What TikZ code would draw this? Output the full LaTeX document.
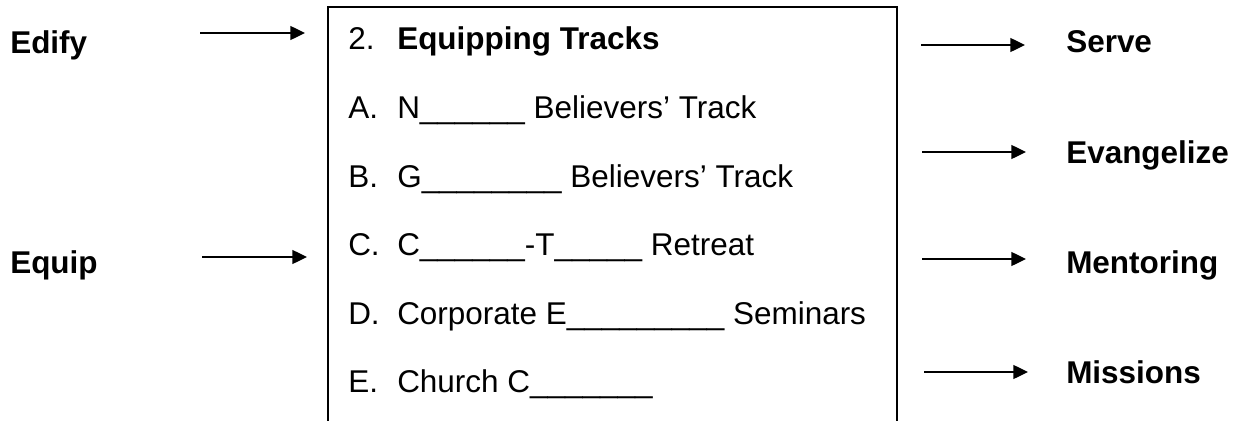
\documentclass[tikz,border=0pt]{standalone}
\usepackage{fontspec}
\setmainfont{Liberation Sans}
\usepackage{tikz}
\usetikzlibrary{positioning,arrows.meta}

\newcommand{\bigsize}{\fontsize{23.6}{28}\selectfont}

\tikzset{
  lab/.style={font=\bigsize\bfseries, anchor=base west, inner sep=0pt},
  num/.style={font=\bigsize, anchor=base west, inner sep=0pt},
  entry/.style={font=\bigsize, anchor=base west, inner sep=0pt},
  flow/.style={line width=1pt, -{Triangle[length=11pt,width=10.5pt]}},
  frame/.style={line width=1.2pt}
}

\begin{document}
\begin{tikzpicture}[x=0.75pt, y=-0.75pt]
    \useasboundingbox (0,0) rectangle (1243,421);

    % open box, runs off the bottom
    \draw[frame] (328,425) -- (328,7) -- (897,7) -- (897,425);

    \node[lab] (edify) at (10,53) {Edify};
    \node[lab] (equip) at (10,273) {Equip};

    \node[num] (n0) at (348,50) {2.};
    \node[entry, font=\bigsize\bfseries] (t0) at (397,50) {Equipping Tracks};
    \node[num] (n1) at (348,118) {A.};
    \node[entry] (t1) at (397,118) {N\_\_\_\_\_\_ Believers' Track};
    \node[num] (n2) at (348,187) {B.};
    \node[entry] (t2) at (397,187) {G\_\_\_\_\_\_\_\_ Believers' Track};
    \node[num] (n3) at (348,255) {C.};
    \node[entry] (t3) at (397,255) {C\_\_\_\_\_\_-T\_\_\_\_\_ Retreat};
    \node[num] (n4) at (348,324) {D.};
    \node[entry] (t4) at (397,324) {Corporate E\_\_\_\_\_\_\_\_\_ Seminars};
    \node[num] (n5) at (348,392) {E.};
    \node[entry] (t5) at (397,392) {Church C\_\_\_\_\_\_\_};

    \node[lab] (serve) at (1066,52) {Serve};
    \node[lab] (evang) at (1066,163) {Evangelize};
    \node[lab] (mentor) at (1066,273) {Mentoring};
    \node[lab] (missions) at (1066,383) {Missions};

    % arrow ends
    \coordinate (edifyA) at (200,33);
    \coordinate (edifyB) at (305,33);
    \coordinate (equipA) at (202,257);
    \coordinate (equipB) at (307,257);
    \coordinate (serveA) at (921,45);
    \coordinate (serveB) at (1025,45);
    \coordinate (evangA) at (922,152);
    \coordinate (evangB) at (1026,152);
    \coordinate (mentorA) at (922,259);
    \coordinate (mentorB) at (1026,259);
    \coordinate (missionsA) at (924,372);
    \coordinate (missionsB) at (1028,372);

    \draw[flow] (edifyA) -- (edifyB);
    \draw[flow] (equipA) -- (equipB);
    \draw[flow] (serveA) -- (serveB);
    \draw[flow] (evangA) -- (evangB);
    \draw[flow] (mentorA) -- (mentorB);
    \draw[flow] (missionsA) -- (missionsB);
\end{tikzpicture}
\end{document}
